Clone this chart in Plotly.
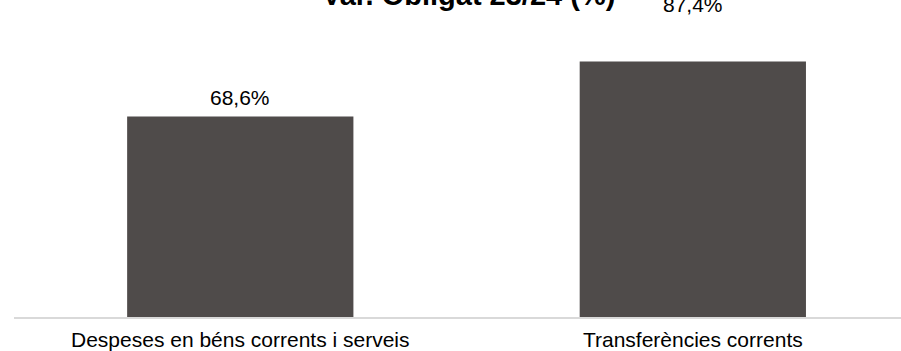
import plotly.graph_objects as go

categories = ["Despeses en béns corrents i serveis", "Transferències corrents"]
values = [68.6, 87.4]
value_labels = ["68,6%", "87,4%"]
title_text = "Var. Obligat 23/24 (%)"

bar_color = "#4F4B4A"
font_family = "Liberation Sans, Arial, sans-serif"

fig = go.Figure()
fig.add_trace(go.Bar(
    x=categories,
    y=values,
    marker=dict(color=bar_color, line=dict(width=0)),
    hoverinfo="skip",
))

label_shifts = [5, 43]
for cat, val, lab, sh in zip(categories, values, value_labels, label_shifts):
    fig.add_annotation(
        x=cat, y=val, xref="x", yref="y",
        text=lab, showarrow=False,
        yanchor="bottom", yshift=sh,
        font=dict(family=font_family, size=21, color="#000000"),
    )

fig.add_annotation(
    x=0.5124, y=1, xref="paper", yref="paper",
    text="<b>" + title_text + "</b>", showarrow=False,
    xanchor="center", yanchor="middle", yshift=5,
    font=dict(family=font_family, size=29, color="#000000"),
)

fig.update_layout(
    width=901, height=351,
    margin=dict(l=14, r=0, t=0, b=34),
    paper_bgcolor="white", plot_bgcolor="white",
    bargap=0.5,
    showlegend=False,
    xaxis=dict(
        range=[-0.5, 1.46],
        showline=True, linecolor="#D9D9D9", linewidth=2,
        showgrid=False, zeroline=False, ticks="",
        ticklabelstandoff=3,
        tickfont=dict(family=font_family, size=21, color="#000000"),
    ),
    yaxis=dict(
        range=[0, 108.4],
        visible=False, showgrid=False, zeroline=False,
    ),
)

fig.write_html(
    "out.html",
    config={"displayModeBar": False},
    post_script="document.body.style.margin='0px';document.body.style.overflow='hidden';",
)
